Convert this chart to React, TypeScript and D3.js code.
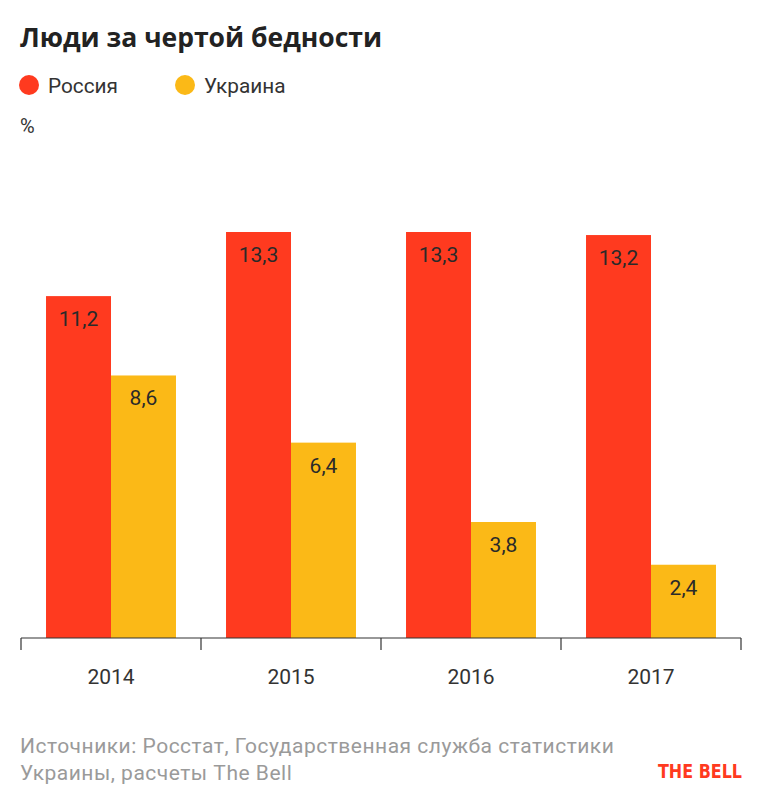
import * as d3 from "d3";
import { useEffect, useRef } from "react";

const YEARS = ["2014", "2015", "2016", "2017"];
const SERIES = ["Россия", "Украина"];
const RUSSIA = [11.2, 13.3, 13.3, 13.2];
const UKRAINE = [8.6, 6.4, 3.8, 2.4];
const COLORS = ["#ff3a1f", "#fbb917"];

const W = 768;
const H = 807;
const FONT = "Roboto, 'Noto Sans', sans-serif";

export default function App() {
  const svgRef = useRef<SVGSVGElement>(null);

  useEffect(() => {
    if (!svgRef.current) return;
    const svg = d3.select(svgRef.current);
    svg.selectAll("*").remove();

    const baseY = 638;

    // Title
    svg
      .append("text")
      .attr("x", 20)
      .attr("y", 47)
      .style("font-family", "'Open Sans', sans-serif")
      .style("font-size", "26.5px")
      .style("font-weight", "bold")
      .style("fill", "#222")
      .text("Люди за чертой бедности");

    // Legend
    const legendX = [29, 185];
    SERIES.forEach((s, i) => {
      svg
        .append("circle")
        .attr("cx", legendX[i])
        .attr("cy", 85)
        .attr("r", 10)
        .style("fill", COLORS[i]);
      svg
        .append("text")
        .attr("x", legendX[i] + 19)
        .attr("y", 93)
        .style("font-family", FONT)
        .style("font-size", "20.8px")
        .style("fill", "#333")
        .text(s);
    });

    svg
      .append("text")
      .attr("x", 20)
      .attr("y", 133)
      .style("font-family", FONT)
      .style("font-size", "20px")
      .style("fill", "#333")
      .text("%");

    const x0 = d3.scaleBand().domain(YEARS).range([21, 741]).paddingInner(0);
    const x1 = d3
      .scaleBand()
      .domain(SERIES)
      .range([0, x0.bandwidth()])
      .paddingInner(0)
      .paddingOuter(0.385);
    const y = d3.scaleLinear().domain([0, 13.3]).range([baseY, 232]);

    const values = [RUSSIA, UKRAINE];
    YEARS.forEach((yr, gi) => {
      const g = svg.append("g").attr("transform", `translate(${x0(yr)},0)`);
      SERIES.forEach((s, si) => {
        const v = values[si][gi];
        g.append("rect")
          .attr("x", x1(s)!)
          .attr("y", y(v))
          .attr("width", x1.bandwidth())
          .attr("height", baseY - y(v))
          .style("fill", COLORS[si]);
        g.append("text")
          .attr("x", x1(s)! + x1.bandwidth() / 2)
          .attr("y", y(v) + 30)
          .attr("text-anchor", "middle")
          .style("font-family", FONT)
          .style("font-size", "21px")
          .style("fill", "#2a2a2a")
          .text(String(v).replace(".", ","));
      });
    });

    // Axis
    svg
      .append("line")
      .attr("x1", 21)
      .attr("x2", 741)
      .attr("y1", baseY)
      .attr("y2", baseY)
      .style("stroke", "#333")
      .style("stroke-width", 1.2);
    const bounds = [...YEARS.map((d) => x0(d)!), 741];
    bounds.forEach((bx) => {
      svg
        .append("line")
        .attr("x1", bx)
        .attr("x2", bx)
        .attr("y1", baseY)
        .attr("y2", 650)
        .style("stroke", "#333")
        .style("stroke-width", 1.2);
    });
    YEARS.forEach((yr) => {
      svg
        .append("text")
        .attr("x", x0(yr)! + x0.bandwidth() / 2)
        .attr("y", 684)
        .attr("text-anchor", "middle")
        .style("font-family", FONT)
        .style("font-size", "21px")
        .style("fill", "#333")
        .text(yr);
    });

    // Footer
    const footer = ["Источники: Росстат, Государственная служба статистики", "Украины, расчеты The Bell"];
    footer.forEach((t, i) => {
      svg
        .append("text")
        .attr("x", 20)
        .attr("y", 753 + i * 27)
        .style("font-family", FONT)
        .style("font-size", "21px")
        .style("letter-spacing", "0.5px")
        .style("fill", "#9a9a9a")
        .text(t);
    });
    svg
      .append("text")
      .attr("x", 658)
      .attr("y", 778)
      .attr("textLength", 84)
      .attr("lengthAdjust", "spacingAndGlyphs")
      .style("font-family", "'Liberation Sans Narrow', 'DejaVu Sans Condensed', sans-serif")
      .style("font-size", "20px")
      .style("font-weight", "bold")
      .style("fill", "#ff3a1f")
      .text("THE BELL");
  }, []);

  return (
    <svg
      ref={svgRef}
      width={W}
      height={H}
      style={{ display: "block", position: "absolute", left: 0, top: 0, background: "#fff" }}
    />
  );
}
